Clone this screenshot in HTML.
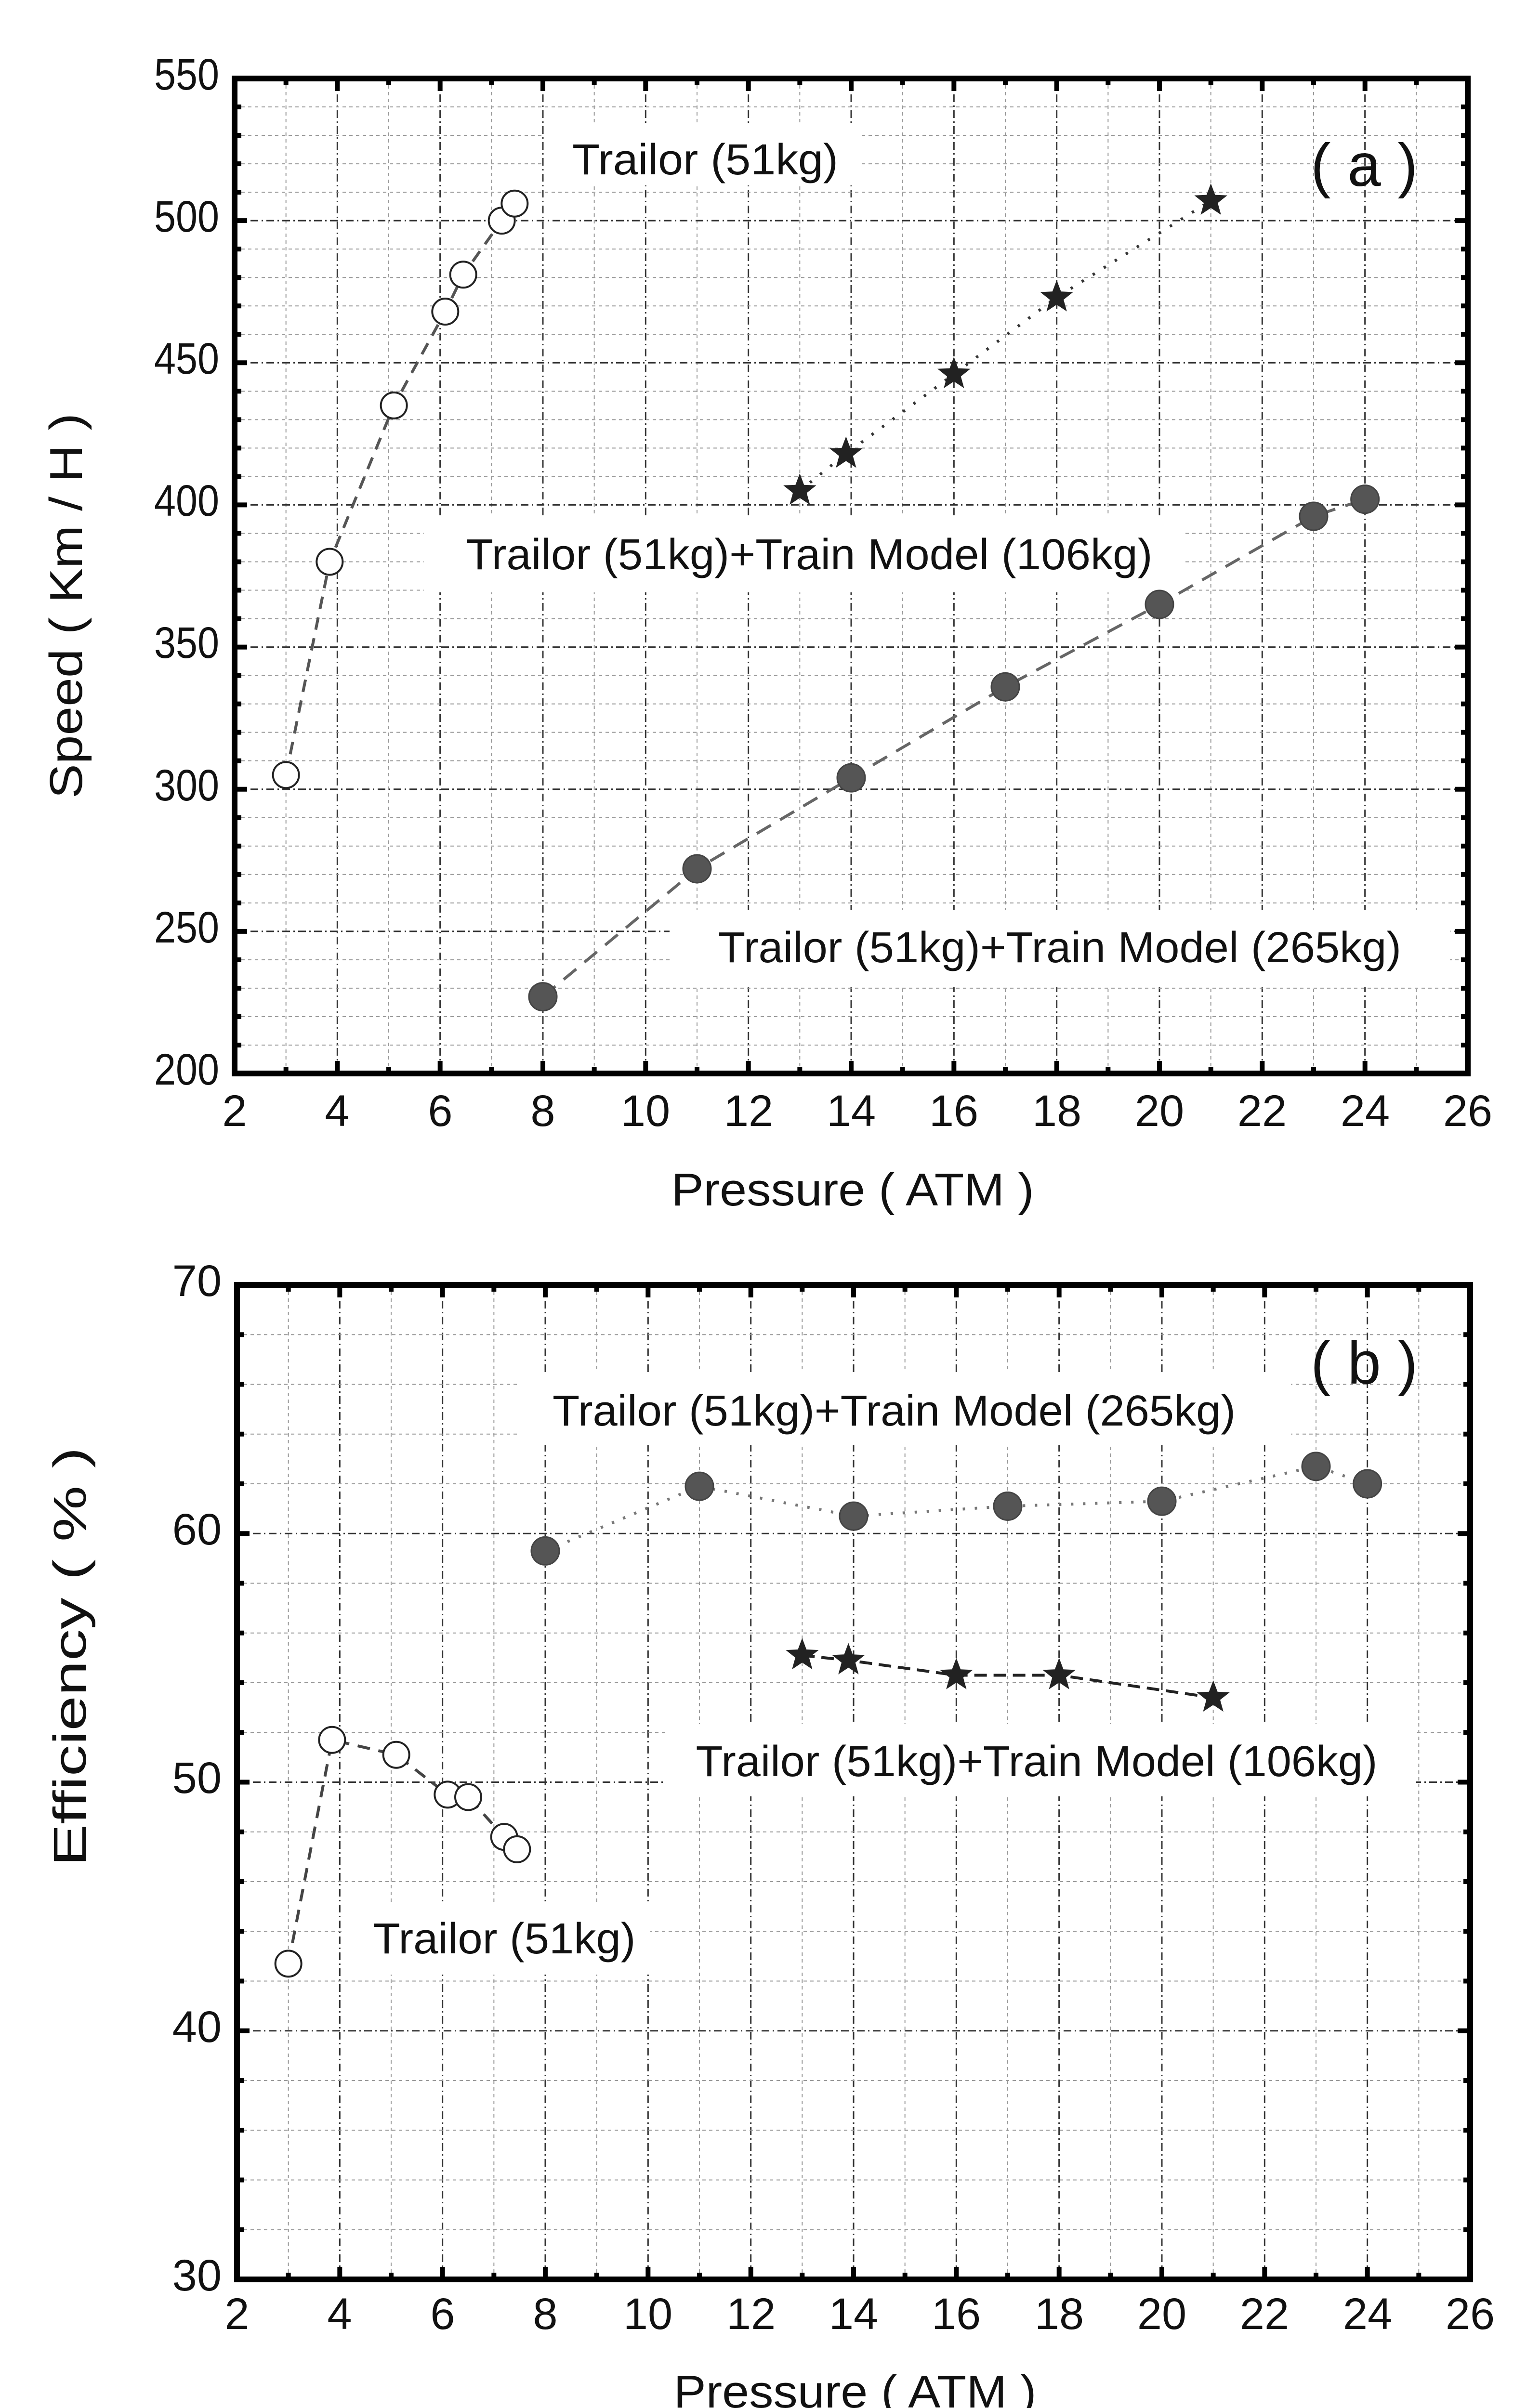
<!DOCTYPE html>
<html><head><meta charset="utf-8"><style>
html,body{margin:0;padding:0;background:#fff;width:3197px;height:5102px;overflow:hidden}
svg{display:block}
text{font-family:"Liberation Sans",sans-serif;fill:#111}
</style></head><body>
<svg id="s" width="3197" height="5102" viewBox="0 0 3197 5102" xmlns="http://www.w3.org/2000/svg">
<rect width="3197" height="5102" fill="#fff"/>
<g id="g"></g>
<g font-size="92">
<g text-anchor="end">
<text x="455" y="186" textLength="135" lengthAdjust="spacingAndGlyphs">550</text><text x="455" y="481" textLength="135" lengthAdjust="spacingAndGlyphs">500</text><text x="455" y="776" textLength="135" lengthAdjust="spacingAndGlyphs">450</text>
<text x="455" y="1071" textLength="135" lengthAdjust="spacingAndGlyphs">400</text><text x="455" y="1366" textLength="135" lengthAdjust="spacingAndGlyphs">350</text><text x="455" y="1662" textLength="135" lengthAdjust="spacingAndGlyphs">300</text>
<text x="455" y="1957" textLength="135" lengthAdjust="spacingAndGlyphs">250</text><text x="455" y="2252" textLength="135" lengthAdjust="spacingAndGlyphs">200</text>
</g>
<g text-anchor="middle">
<text x="487" y="2338">2</text><text x="700" y="2338">4</text><text x="914" y="2338">6</text><text x="1127" y="2338">8</text>
<text x="1340" y="2338">10</text><text x="1554" y="2338">12</text><text x="1767" y="2338">14</text><text x="1980" y="2338">16</text>
<text x="2194" y="2338">18</text><text x="2407" y="2338">20</text><text x="2620" y="2338">22</text><text x="2834" y="2338">24</text><text x="3047" y="2338">26</text>
</g>
<g text-anchor="end">
<text x="460" y="2691">70</text><text x="460" y="3207">60</text><text x="460" y="3723">50</text>
<text x="460" y="4240">40</text><text x="460" y="4756">30</text>
</g>
<g text-anchor="middle">
<text x="492" y="4836">2</text><text x="705" y="4836">4</text><text x="919" y="4836">6</text><text x="1132" y="4836">8</text>
<text x="1345" y="4836">10</text><text x="1559" y="4836">12</text><text x="1772" y="4836">14</text><text x="1985" y="4836">16</text>
<text x="2199" y="4836">18</text><text x="2412" y="4836">20</text><text x="2625" y="4836">22</text><text x="2839" y="4836">24</text><text x="3052" y="4836">26</text>
</g>
</g>
<g font-size="96" text-anchor="middle">
<text x="1770" y="2503" textLength="753" lengthAdjust="spacingAndGlyphs">Pressure ( ATM )</text>
<text x="1775" y="4999" textLength="753" lengthAdjust="spacingAndGlyphs">Pressure ( ATM )</text>
<text transform="translate(170,1258) rotate(-90)" textLength="800" lengthAdjust="spacingAndGlyphs">Speed ( Km / H )</text>
<text transform="translate(178,3440) rotate(-90)" textLength="870" lengthAdjust="spacingAndGlyphs">Efficiency ( % )</text>
</g>
<g font-size="90" text-anchor="middle">
<rect x="1130" y="255" width="660" height="130" fill="#fff"/>
<text x="1464" y="362" textLength="552" lengthAdjust="spacingAndGlyphs">Trailor (51kg)</text>
<rect x="880" y="1070" width="1580" height="160" fill="#fff"/>
<text x="1680" y="1182" textLength="1425" lengthAdjust="spacingAndGlyphs">Trailor (51kg)+Train Model (106kg)</text>
<rect x="1390" y="1890" width="1620" height="160" fill="#fff"/>
<text x="2200" y="1998" textLength="1418" lengthAdjust="spacingAndGlyphs">Trailor (51kg)+Train Model (265kg)</text>
<rect x="1080" y="2850" width="1600" height="150" fill="#fff"/>
<text x="1856" y="2960" textLength="1418" lengthAdjust="spacingAndGlyphs">Trailor (51kg)+Train Model (265kg)</text>
<rect x="1380" y="3580" width="1560" height="150" fill="#fff"/>
<text x="2152" y="3688" textLength="1415" lengthAdjust="spacingAndGlyphs">Trailor (51kg)+Train Model (106kg)</text>
<rect x="710" y="3950" width="640" height="150" fill="#fff"/>
<text x="1047" y="4056" textLength="545" lengthAdjust="spacingAndGlyphs">Trailor (51kg)</text>
</g>
<g font-size="125" text-anchor="middle">
<text x="2832" y="386">( a )</text>
<text x="2832" y="2873">( b )</text>
</g>
<g id="d"></g>
</svg>
<script>
var NS="http://www.w3.org/2000/svg";
function el(p,t,a){var e=document.createElementNS(NS,t);for(var k in a)e.setAttribute(k,a[k]);p.appendChild(e);return e;}
var g=document.getElementById('g'),d=document.getElementById('d');
function panel(L,T,R,B,x0,x1,y0,y1,ymaj,ymin){
  var X=function(v){return L+(v-x0)/(x1-x0)*(R-L)},Y=function(v){return B-(v-y0)/(y1-y0)*(B-T)};
  for(var v=x0+1;v<x1;v++){var x=X(v);var maj=(v%2==0);
    el(g,'line',{x1:x,y1:T,x2:x,y2:B,stroke:maj?'#333':'#999','stroke-width':maj?3:2,'stroke-dasharray':maj?'16,7,3,7':'7,7'});}
  for(var v=y0+ymin;v<y1;v+=ymin){var y=Y(v);var maj=(Math.abs(v%ymaj)<1e-6);
    el(g,'line',{x1:L,y1:y,x2:R,y2:y,stroke:maj?'#333':'#999','stroke-width':maj?3:2,'stroke-dasharray':maj?'16,7,3,7':'7,7'});}
  for(var v=x0;v<=x1;v++){var x=X(v),len=(v%2==0)?26:14;
    el(g,'line',{x1:x,y1:B,x2:x,y2:B-len,stroke:'#000','stroke-width':10});
    el(g,'line',{x1:x,y1:T,x2:x,y2:T+len,stroke:'#000','stroke-width':10});}
  for(var v=y0;v<=y1+1e-6;v+=ymin){var y=Y(v),len=(Math.abs(v%ymaj)<1e-6)?26:14;
    el(g,'line',{x1:L,y1:y,x2:L+len,y2:y,stroke:'#000','stroke-width':10});
    el(g,'line',{x1:R,y1:y,x2:R-len,y2:y,stroke:'#000','stroke-width':10});}
  el(g,'rect',{x:L,y:T,width:R-L,height:B-T,fill:'none',stroke:'#000','stroke-width':12});
  return [X,Y];
}
function star(cx,cy,r){var p=[];for(var i=0;i<10;i++){var a=-Math.PI/2+i*Math.PI/5,rr=i%2?r*0.42:r;p.push((cx+rr*Math.cos(a)).toFixed(1)+','+(cy+rr*Math.sin(a)).toFixed(1));}return p.join(' ');}
function series(f,pts,type,dash,col){
  var X=f[0],Y=f[1];
  el(d,'polyline',{points:pts.map(function(p){return X(p[0])+','+Y(p[1])}).join(' '),fill:'none',stroke:col,'stroke-width':6,'stroke-dasharray':dash});
  pts.forEach(function(p){var x=X(p[0]),y=Y(p[1]);
    if(type=='o')el(d,'circle',{cx:x,cy:y,r:27,fill:'#fff',stroke:'#222','stroke-width':4});
    else if(type=='f')el(d,'circle',{cx:x,cy:y,r:29,fill:'#555',stroke:'#444','stroke-width':3});
    else el(d,'polygon',{points:star(x,y,36),fill:'#222'});});
}
var A=panel(487,163,3047,2229,2,26,200,550,50,10);
series(A,[[3,305],[3.85,380],[5.1,435],[6.1,468],[6.45,481],[7.2,500],[7.45,506]],'o','26,18','#555');
series(A,[[13,405],[13.9,418],[16,446],[18,473],[21,507]],'s','5,22','#333');
series(A,[[8,227],[11,272],[14,304],[17,336],[20,365],[23,396],[24,402]],'f','34,22','#666');
var Bp=panel(492,2668,3052,4733,2,26,30,70,10,2);
series(Bp,[[3,42.7],[3.85,51.7],[5.1,51.1],[6.1,49.5],[6.5,49.4],[7.2,47.8],[7.45,47.3]],'o','26,18','#444');
series(Bp,[[8,59.3],[11,61.9],[14,60.7],[17,61.1],[20,61.3],[23,62.7],[24,62]],'f','5,20','#777');
series(Bp,[[13,55.1],[13.9,54.9],[16,54.3],[18,54.3],[21,53.4]],'s','26,14','#222');
</script>
</body></html>
